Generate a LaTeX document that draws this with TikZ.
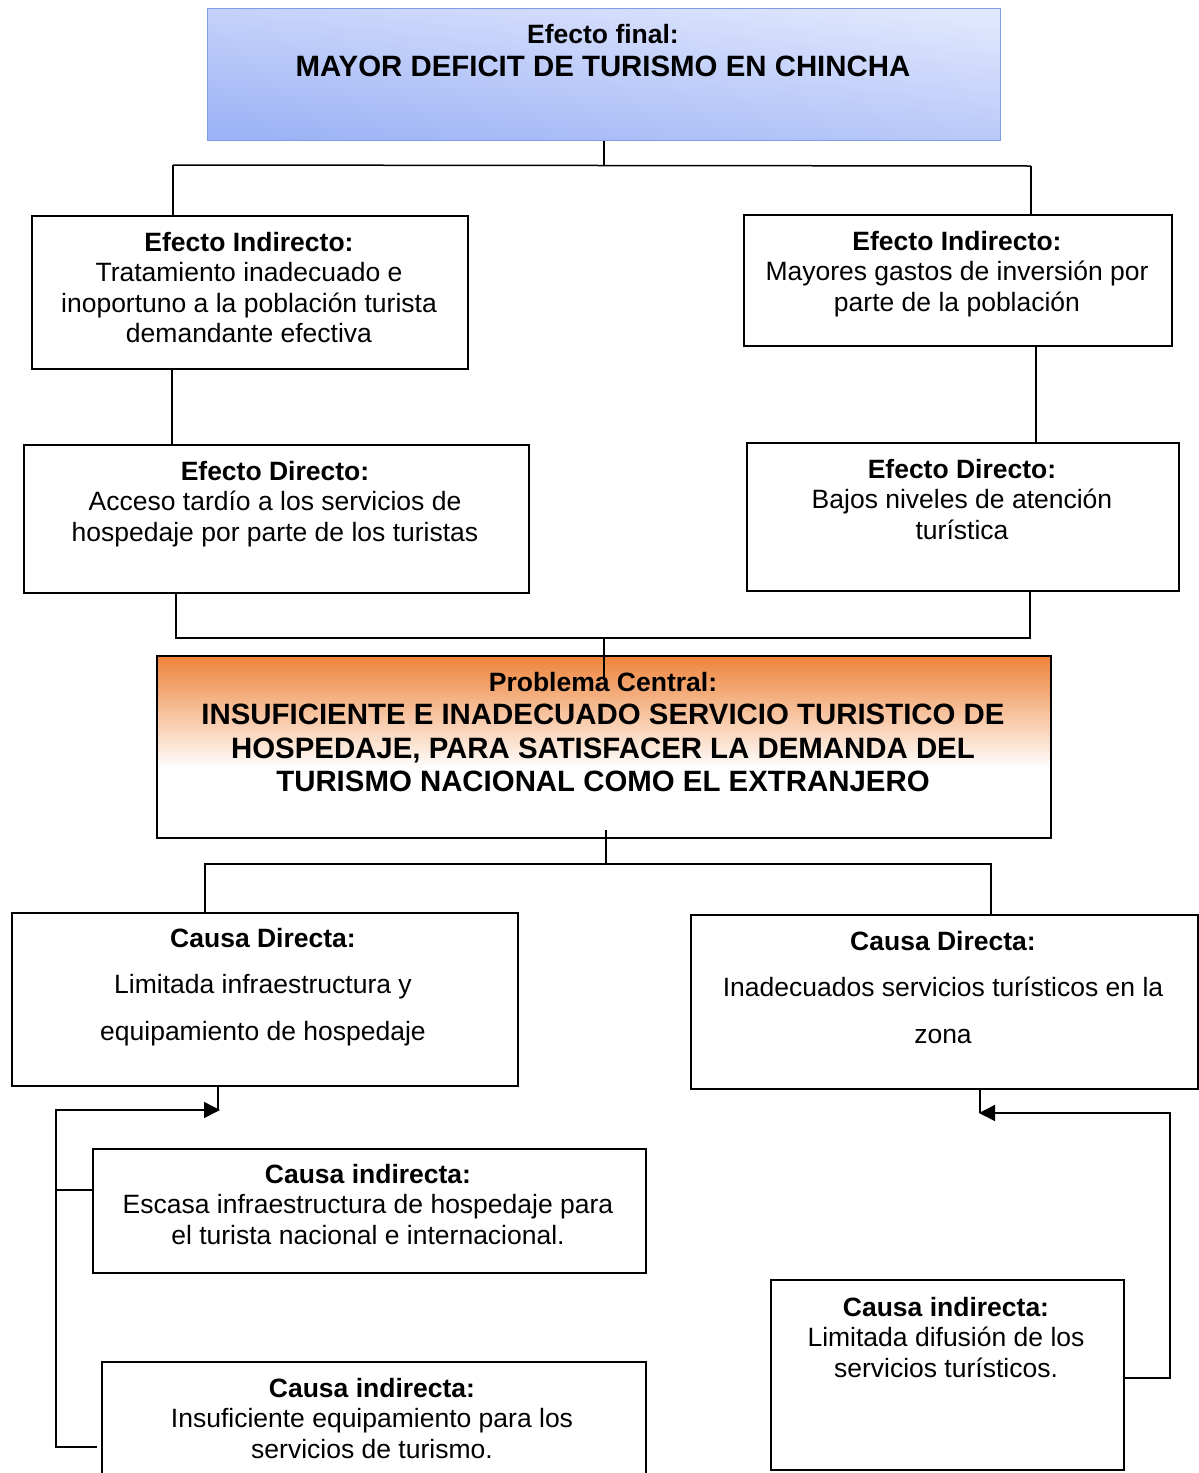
\documentclass[tikz,border=0pt]{standalone}
\usepackage{fontspec}
\setmainfont{Liberation Sans}
\usetikzlibrary{arrows.meta}
\definecolor{blueTop}{HTML}{E0E7FD}
\definecolor{blueBot}{HTML}{9DB3F5}
\definecolor{blueEdge}{HTML}{7F9DE6}
\definecolor{orangeC}{HTML}{EE8339}
\pgfdeclareverticalshading{probshade}{100bp}{color(0bp)=(white); color(44bp)=(white); color(75bp)=(orangeC); color(100bp)=(orangeC)}
\newcommand\hs{\rule{0pt}{26.5pt}}
\begin{document}
\begin{tikzpicture}[x=1pt,y=-1pt,
 box/.style={draw=black, line width=1.8pt, anchor=north west, inner sep=0pt},
 txt/.style={anchor=north, align=center, inner sep=0pt, font=\fontsize{26.5}{30.5}\selectfont},
 txtwide/.style={anchor=north, align=center, inner sep=0pt, font=\fontsize{26.5}{46.5}\selectfont},
 txtbig/.style={anchor=north, align=center, inner sep=0pt, font=\fontsize{29.4}{33.5}\selectfont\bfseries},
 conn/.style={line width=1.5pt},
 arr/.style={conn, -{Triangle[length=16pt,width=16pt]}}]
\clip (0,0) rectangle (1199,1473);
% boxes
\node[box, draw=blueEdge, line width=1.2pt, minimum width=793pt, minimum height=132pt,
      top color=blueTop, bottom color=blueBot, shading angle=-7] (top) at (207,8) {};
\node[box, minimum width=436pt, minimum height=153pt] (ei1) at (31,215) {};
\node[box, minimum width=428pt, minimum height=131pt] (ei2) at (743,214) {};
\node[box, minimum width=505pt, minimum height=148pt] (ed1) at (23,444) {};
\node[box, minimum width=432pt, minimum height=148pt] (ed2) at (746,442) {};
\node[box, shading=probshade, minimum width=894pt, minimum height=182pt] (prob) at (156,655) {};
\node[box, minimum width=506pt, minimum height=173pt] (cd1) at (11,912) {};
\node[box, minimum width=507pt, minimum height=174pt] (cd2) at (690,914) {};
\node[box, minimum width=553pt, minimum height=124pt] (ci1) at (92,1148) {};
\node[box, minimum width=544pt, minimum height=140pt] (ci2) at (101,1361) {};
\node[box, minimum width=353pt, minimum height=190pt] (cir) at (770,1279) {};
% texts
\node[txtbig] (ttop) at (603,16.5) {{\fontsize{26.5}{33}\selectfont\hs Efecto final:}\\MAYOR DEFICIT DE TURISMO EN CHINCHA};
\node[txt] (tei1) at (249,224.5) {\hs\textbf{Efecto Indirecto:}\\Tratamiento inadecuado e\\inoportuno a la población turista\\demandante efectiva};
\node[txt] (tei2) at (957,223.5) {\hs\textbf{Efecto Indirecto:}\\Mayores gastos de inversión por\\parte de la población};
\node[txt] (ted1) at (275,453.5) {\hs\textbf{Efecto Directo:}\\Acceso tardío a los servicios de\\hospedaje por parte de los turistas};
\node[txt] (ted2) at (962,451.5) {\hs\textbf{Efecto Directo:}\\Bajos niveles de atención\\turística};
\node[txtbig] (tprob) at (603,664.5) {{\fontsize{26.5}{33}\selectfont\hs Problema Central:}\\INSUFICIENTE E INADECUADO SERVICIO TURISTICO DE\\HOSPEDAJE, PARA SATISFACER LA DEMANDA DEL\\TURISMO NACIONAL COMO EL EXTRANJERO};
\node[txtwide] (tcd1) at (263,920.5) {\hs\textbf{Causa Directa:}\\Limitada infraestructura y\\equipamiento de hospedaje};
\node[txtwide] (tcd2) at (943,923.5) {\hs\textbf{Causa Directa:}\\Inadecuados servicios turísticos en la\\zona};
\node[txt] (tci1) at (368,1156.5) {\hs\textbf{Causa indirecta:}\\Escasa infraestructura de hospedaje para\\el turista nacional e internacional.};
\node[txt] (tci2) at (372,1370.5) {\hs\textbf{Causa indirecta:}\\Insuficiente equipamiento para los\\servicios de turismo.};
\node[txt] (tcir) at (946,1289.5) {\hs\textbf{Causa indirecta:}\\Limitada difusión de los\\servicios turísticos.};
% junctions
\coordinate (j1L) at (173,165);
\coordinate (j1R) at (1031,166);
\coordinate (c2L) at (172,0);
\coordinate (c2R) at (1036,0);
\coordinate (j2L) at (176,638);
\coordinate (j2R) at (1030,638);
\coordinate (pEnd) at (604,680);
\coordinate (pStart) at (606,830);
\coordinate (j3L) at (205,864);
\coordinate (j3R) at (991,864);
\coordinate (aL) at (220,1110);
\coordinate (aLv) at (218,1110);
\coordinate (bL) at (56,1447);
\coordinate (cL1) at (56,1190);
\coordinate (aR) at (979,1113);
\coordinate (aRv) at (980,1113);
\coordinate (bR) at (1170,1378);
% connectors
\draw[conn] (top.south) -- (top.south |- j1L);
\draw[conn] (j1L) -- (j1R);
\draw[conn] (j1L) -- (ei1.north -| j1L);
\draw[conn] (j1R) -- (ei2.north -| j1R);
\draw[conn] (ei1.south -| c2L) -- (ed1.north -| c2L);
\draw[conn] (ei2.south -| c2R) -- (ed2.north -| c2R);
\draw[conn] (ed1.south -| j2L) -- (j2L) -- (j2R) -- (ed2.south -| j2R);
\draw[conn] (pEnd |- j2L) -- (pEnd);
\draw[conn] (pStart) -- (pStart |- j3L);
\draw[conn] (cd1.north -| j3L) -- (j3L) -- (j3R) -- (cd2.north -| j3R);
\draw[conn] (cd1.south -| aLv) -- (aLv);
\draw[arr] ([xshift=-4pt]ci2.west |- bL) -- (bL) -- (bL |- aL) -- (aL);
\draw[conn] (ci1.west |- cL1) -- (cL1);
\draw[conn] (cd2.south -| aRv) -- (aRv);
\draw[arr] (cir.east |- bR) -- (bR) -- (bR |- aR) -- (aR);
\end{tikzpicture}
\end{document}
